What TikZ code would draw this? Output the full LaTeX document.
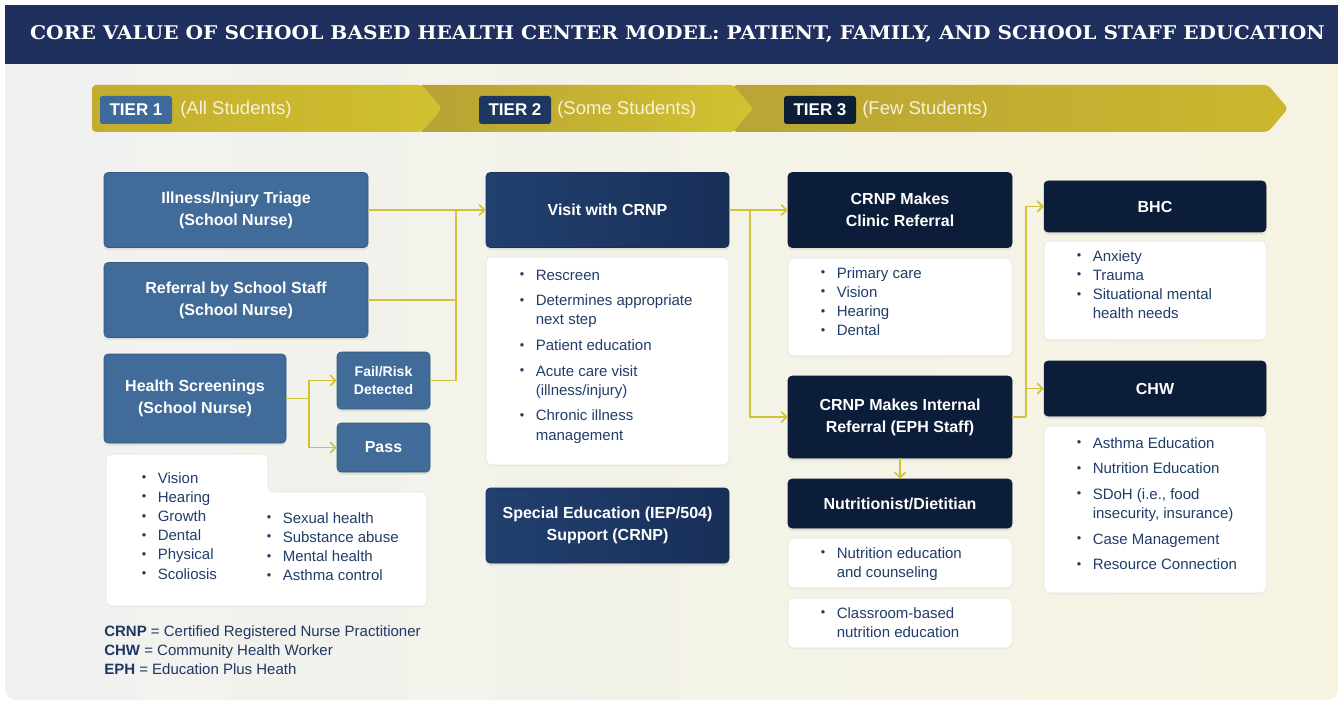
\documentclass[tikz,border=0pt]{standalone}
\usepackage{fontspec}
\usepackage{graphicx}
\setmainfont{Liberation Sans}
\newfontfamily\slabfont{DejaVu Serif}
\usetikzlibrary{arrows.meta,shadows}
\definecolor{titlenavy}{HTML}{1F2F5E}
\definecolor{bgleft}{HTML}{F1F2F0}
\definecolor{bgright}{HTML}{F6F3E1}
\definecolor{goldA}{HTML}{C3AD2E}
\definecolor{goldB}{HTML}{D1C030}
\definecolor{goldC}{HTML}{B8A135}
\definecolor{goldD}{HTML}{D2C230}
\definecolor{goldE}{HTML}{BAA436}
\definecolor{goldF}{HTML}{CBB72E}
\definecolor{bannertext}{HTML}{F6F2DC}
\definecolor{tierone}{HTML}{3D6A9A}
\definecolor{tiertwo}{HTML}{1E3761}
\definecolor{tierthree}{HTML}{0D1E37}
\definecolor{steel}{HTML}{416B99}
\definecolor{steeldark}{HTML}{35597F}
\definecolor{navyA}{HTML}{22406F}
\definecolor{navyB}{HTML}{182F58}
\definecolor{night}{HTML}{0B1D38}
\definecolor{linkgold}{HTML}{D5C03A}
\definecolor{listblue}{HTML}{213D69}
\definecolor{legendblue}{HTML}{1F3765}
\definecolor{cardline}{HTML}{E2E2DE}
\newcommand\boxfont{\fontsize{12}{16.5}\selectfont\bfseries}
\newcommand\smallboxfont{\fontsize{10.5}{13.5}\selectfont\bfseries}
\newcommand\listfont{\fontsize{11.25}{14.4}\selectfont}
\newcommand\bul{\makebox[12pt][l]{\fontsize{9.5}{9.5}\selectfont\raisebox{1pt}{\textbullet}}}
\newcommand\ind{\hspace*{12pt}}
\newcommand\blist[1]{\begin{tabular}[t]{@{}l@{}}#1\end{tabular}}
\begin{document}
\begin{tikzpicture}[x=0.75pt,y=-0.75pt,
	dims/.style 2 args={minimum width=#1*0.75pt, minimum height=#2*0.75pt},
	box/.style={rounded corners=3pt, align=center, text=white, inner sep=0pt, font=\boxfont, drop shadow={shadow xshift=0pt, shadow yshift=-2pt, opacity=0.15}},
	steelbox/.style={box, fill=steel, draw=steeldark},
	navybox/.style={box, left color=navyA, right color=navyB, draw=navyB},
	nightbox/.style={box, fill=night, draw=night},
	card/.style={rounded corners=4pt, fill=white, draw=cardline, inner sep=0pt, drop shadow={shadow xshift=0pt, shadow yshift=-1pt, opacity=0.06}},
	badge/.style={rounded corners=2pt, text=white, inner sep=0pt, dims={72}{28}, font=\fontsize{12.75}{14}\selectfont\bfseries},
	tierlabel/.style={anchor=west, inner sep=0pt, text=bannertext, font=\fontsize{13.9}{16}\selectfont},
	listtext/.style={anchor=base west, inner sep=0pt, text=listblue, font=\listfont},
	link/.style={draw=linkgold, line width=1.3pt},
	flow/.style={link, -{Straight Barb[length=4pt, width=8pt]}}
]
	\useasboundingbox (0,0) rectangle (1344,702);
	\fill[white] (0,0) rectangle (1344,702);
	\shade[left color=bgleft, right color=bgright, rounded corners=8pt] (5,5) rectangle (1338,700);
	\fill[titlenavy] (5,5) rectangle (1338,64);
	\node[text=white, inner sep=0pt] (title) at (677.5,34) {\resizebox{971pt}{10.5pt}{\slabfont\bfseries CORE VALUE OF SCHOOL BASED HEALTH CENTER MODEL: PATIENT, FAMILY, AND SCHOOL STAFF EDUCATION}};

	\shade[left color=goldE, right color=goldF, rounded corners=3pt] (733,85) -- (1268,85) -- (1288,108.5) -- (1268,132) -- (733,132) -- cycle;
	\shade[left color=goldC, right color=goldD, rounded corners=2pt] (420,85) -- (733,85) -- (753,108.5) -- (733,132) -- (420,132) -- cycle;
	\shade[left color=goldA, right color=goldB, rounded corners=3pt] (92,85) -- (422,85) -- (442,108.5) -- (422,132) -- (92,132) -- cycle;
	\node[badge, fill=tierone] (tier1) at (136,110) {TIER 1};
	\node[tierlabel] (all) at (180,110) {(All Students)};
	\node[badge, fill=tiertwo] (tier2) at (515,110) {TIER 2};
	\node[tierlabel] (some) at (557,110) {(Some Students)};
	\node[badge, fill=tierthree] (tier3) at (820,110) {TIER 3};
	\node[tierlabel] (few) at (862,110) {(Few Students)};

	\node[steelbox, dims={264}{75}] (triage) at (236,210) {Illness/Injury Triage\\(School Nurse)};
	\node[steelbox, dims={264}{75}] (refer) at (236,300) {Referral by School Staff\\(School Nurse)};
	\node[steelbox, dims={182}{89}] (screen) at (195,398.5) {Health Screenings\\(School Nurse)};
	\node[steelbox, dims={93}{57}, font=\smallboxfont] (risk) at (383.5,380.5) {Fail/Risk\\Detected};
	\node[steelbox, dims={93}{49}] (pass) at (383.5,447.5) {Pass};
	\path[card] (106,454) -- (268,454) -- (268,492) -- (427,492) -- (427,606) -- (106,606) -- cycle;
	\node[listtext] (screenlistA) at (141.5,483) {\blist{\bul Vision\\ \bul Hearing\\ \bul Growth\\ \bul Dental\\ \bul Physical\\ \bul Scoliosis}};
	\node[listtext] (screenlistB) at (266.5,523) {\blist{\bul Sexual health\\ \bul Substance abuse\\ \bul Mental health\\ \bul Asthma control}};
	\node[listtext, text=legendblue] (legend) at (104,636) {\blist{\textbf{CRNP} = Certified Registered Nurse Practitioner\\ \textbf{CHW} = Community Health Worker\\ \textbf{EPH} = Education Plus Heath}};

	\node[navybox, dims={243}{75}] (visit) at (607.5,210) {Visit with CRNP};
	\node[card, dims={243}{208}] (visitcard) at (607.5,361) {};
	\node[listtext] (visitlist) at (519.5,280) {\blist{\bul Rescreen\\[4.8pt] \bul Determines appropriate\\ \ind next step\\[4.8pt] \bul Patient education\\[4.8pt] \bul Acute care visit\\ \ind (illness/injury)\\[4.8pt] \bul Chronic illness\\ \ind management}};
	\node[navybox, dims={243}{75}] (sped) at (607.5,525.5) {Special Education (IEP/504)\\Support (CRNP)};

	\node[nightbox, dims={224}{75}] (clinic) at (900,210) {CRNP Makes\\Clinic Referral};
	\node[card, dims={224}{98}] (cliniccard) at (900,307) {};
	\node[listtext] (cliniclist) at (820.5,278) {\blist{\bul Primary care\\ \bul Vision\\ \bul Hearing\\ \bul Dental}};
	\node[nightbox, dims={224}{82}] (internal) at (900,417) {CRNP Makes Internal\\Referral (EPH Staff)};
	\node[nightbox, dims={224}{49}] (nutri) at (900,503.5) {Nutritionist/Dietitian};
	\node[card, dims={224}{50}] (nutricardA) at (900,563) {};
	\node[listtext] (nutrilistA) at (820.5,558) {\blist{\bul Nutrition education\\ \ind and counseling}};
	\node[card, dims={224}{50}] (nutricardB) at (900,623) {};
	\node[listtext] (nutrilistB) at (820.5,618) {\blist{\bul Classroom-based\\ \ind nutrition education}};

	\node[nightbox, dims={222}{51}] (bhc) at (1155,206.5) {BHC};
	\node[card, dims={222}{99}] (bhccard) at (1155,290.5) {};
	\node[listtext] (bhclist) at (1076.5,261) {\blist{\bul Anxiety\\ \bul Trauma\\ \bul Situational mental\\ \ind health needs}};
	\node[nightbox, dims={222}{55}] (chw) at (1155,388.5) {CHW};
	\node[card, dims={222}{167}] (chwcard) at (1155,509.5) {};
	\node[listtext] (chwlist) at (1076.5,448) {\blist{\bul Asthma Education\\[4.8pt] \bul Nutrition Education\\[4.8pt] \bul SDoH (i.e., food\\ \ind insecurity, insurance)\\[4.8pt] \bul Case Management\\[4.8pt] \bul Resource Connection}};

	\coordinate (jL) at (456,210);
	\coordinate (jS) at (309,398.5);
	\coordinate (jM) at (750,210);
	\coordinate (jR) at (1026,417);
	\draw[flow] (triage.east) -- (visit.west);
	\draw[link] (refer.east) -| (jL);
	\draw[link] (risk.east) -| (jL);
	\draw[link] (screen.east) -- (jS);
	\draw[flow] (jS) |- (risk.west);
	\draw[flow] (jS) |- (pass.west);
	\draw[flow] (visit.east) -- (clinic.west);
	\draw[flow] (jM) |- (internal.west);
	\draw[link] (internal.east) -- (jR);
	\draw[flow] (jR) |- (bhc.west);
	\draw[flow] (jR |- chw.west) -- (chw.west);
	\draw[flow] (internal.south) -- (nutri.north);
\end{tikzpicture}
\end{document}
